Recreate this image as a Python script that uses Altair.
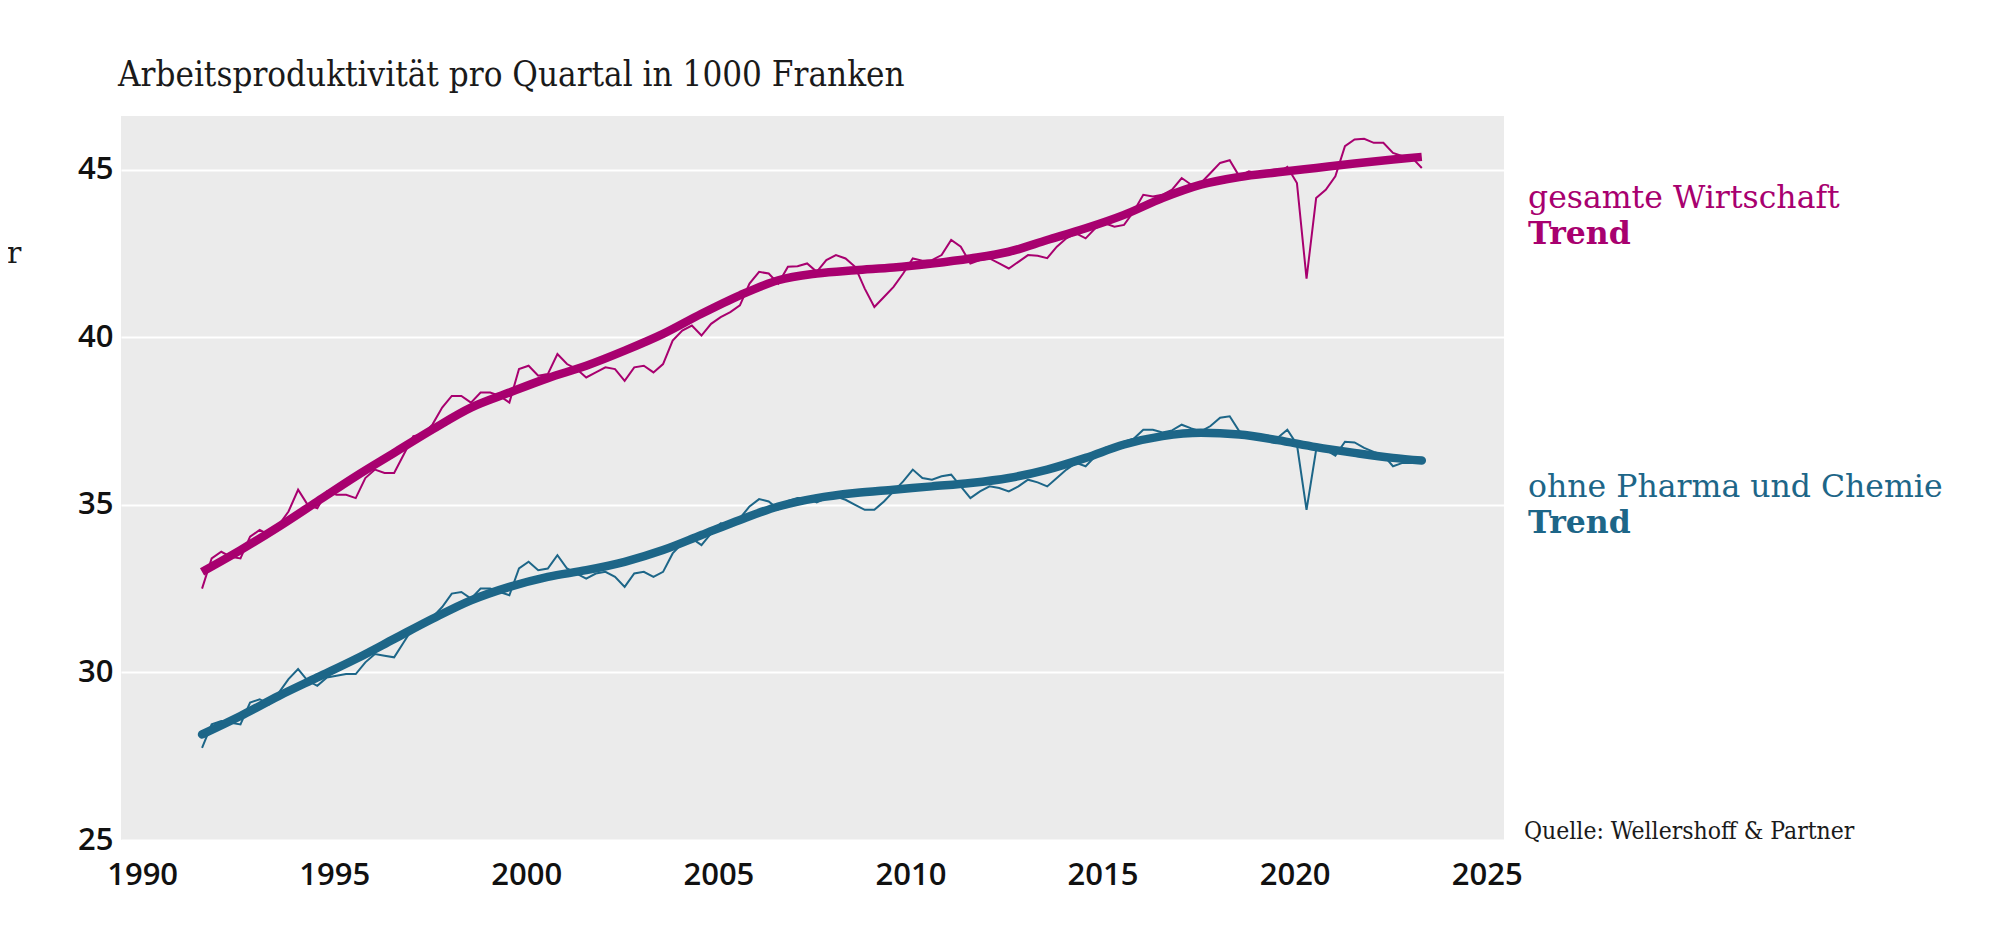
import altair as alt
import pandas as pd

# ---- data ----
start_year, start_quarter = 1991, 3   # first quarter shown: 1991 Q3

gesamt = [32.5, 33.4, 33.6, 33.45, 33.4, 34.05, 34.25, 34.1, 34.4, 34.8,
          35.45, 35.0, 34.9, 35.4, 35.3, 35.3, 35.2, 35.8, 36.05, 35.95,
          35.95, 36.5, 37.05, 37.1, 37.4, 37.9, 38.25, 38.25, 38.05, 38.35,
          38.35, 38.25, 38.05, 39.05, 39.15, 38.85, 38.9, 39.5, 39.2, 39.05,
          38.8, 38.95, 39.1, 39.05, 38.7, 39.1, 39.15, 38.95, 39.2, 39.9,
          40.2, 40.35, 40.05, 40.4, 40.6, 40.75, 40.95, 41.6, 41.95, 41.9,
          41.6, 42.1, 42.12, 42.2, 41.95, 42.3, 42.45, 42.35, 42.1, 41.45,
          40.9, 41.2, 41.5, 41.9, 42.35, 42.28, 42.3, 42.45, 42.9, 42.7,
          42.2, 42.3, 42.35, 42.2, 42.05, 42.25, 42.45, 42.43, 42.36, 42.7,
          42.95, 43.1, 42.95, 43.25, 43.4, 43.3, 43.35, 43.75, 44.25, 44.2,
          44.25, 44.4, 44.75, 44.55, 44.6, 44.9, 45.2, 45.28, 44.8, 44.95,
          44.87, 44.87, 44.9, 45.08, 44.6, 41.75, 44.15, 44.4, 44.8, 45.7,
          45.9, 45.92, 45.8, 45.8, 45.5, 45.4, 45.35, 45.05]

ohne = [27.75, 28.45, 28.55, 28.5, 28.45, 29.1, 29.2, 29.05, 29.4, 29.8,
        30.1, 29.75, 29.6, 29.85, 29.9, 29.95, 29.95, 30.3, 30.55, 30.5,
        30.45, 30.9, 31.35, 31.45, 31.65, 31.95, 32.35, 32.4, 32.2, 32.5,
        32.5, 32.4, 32.3, 33.1, 33.3, 33.05, 33.1, 33.5, 33.1, 32.95,
        32.8, 32.95, 33.0, 32.85, 32.55, 32.95, 33.0, 32.85, 33.0, 33.55,
        33.85, 34.0, 33.8, 34.15, 34.45, 34.4, 34.6, 34.95, 35.17, 35.1,
        34.87, 35.12, 35.2, 35.2, 35.07, 35.2, 35.25, 35.15, 35.0, 34.85,
        34.85, 35.1, 35.4, 35.7, 36.05, 35.8, 35.75, 35.85, 35.9, 35.55,
        35.2, 35.4, 35.55, 35.5, 35.4, 35.55, 35.75, 35.67, 35.55, 35.8,
        36.05, 36.25, 36.15, 36.45, 36.7, 36.78, 36.88, 36.97, 37.24, 37.24,
        37.16, 37.22, 37.39, 37.28, 37.19, 37.35, 37.6, 37.64, 37.19, 37.12,
        37.1, 37.06, 37.0, 37.24, 36.8, 34.85, 36.64, 36.64, 36.47, 36.88,
        36.86, 36.7, 36.58, 36.48, 36.15, 36.25, 36.25, 36.3]

# trend values, one per year (same quarter as the first point) plus the last quarter
trend_gesamt = [33.0, 33.65, 34.35, 35.1, 35.85, 36.55, 37.25, 37.9, 38.35, 38.78,
                39.15, 39.6, 40.1, 40.7, 41.25, 41.7, 41.9, 42.0, 42.08, 42.2,
                42.35, 42.55, 42.9, 43.25, 43.65, 44.15, 44.55, 44.78, 44.92, 45.05,
                45.18, 45.3, 45.38]
trend_ohne = [28.15, 28.7, 29.3, 29.85, 30.4, 31.0, 31.6, 32.15, 32.55, 32.85,
              33.05, 33.3, 33.65, 34.1, 34.55, 34.95, 35.2, 35.35, 35.45, 35.55,
              35.65, 35.8, 36.05, 36.4, 36.8, 37.05, 37.15, 37.1, 36.93, 36.72,
              36.55, 36.4, 36.32]

series_names = ["gesamte Wirtschaft", "ohne Pharma und Chemie"]
series_colors = ["#a8006f", "#1d6688"]
x_ticks = [1990, 1995, 2000, 2005, 2010, 2015, 2020, 2025]
y_ticks = [25, 30, 35, 40, 45]

# ---- tables ----
def qtime(i):
    q0 = start_quarter - 1 + i
    return start_year + q0 // 4 + (q0 % 4) / 4 + 0.06

rows = []
for name, vals in zip(series_names, [gesamt, ohne]):
    for i, v in enumerate(vals):
        rows.append({"t": qtime(i), "v": v, "s": name})
raw = pd.DataFrame(rows)

n = len(gesamt)
trend_idx = list(range(0, n, 4)) + [n - 1]
trows = []
for name, vals in zip(series_names, [trend_gesamt, trend_ohne]):
    for k, v in zip(trend_idx, vals):
        trows.append({"t": qtime(k), "v": v, "s": name})
trend = pd.DataFrame(trows)

xscale = alt.Scale(domain=[1989.45, 2025.45], nice=False, zero=False)
yscale = alt.Scale(domain=[25, 46.6], nice=False, zero=False)
cscale = alt.Scale(domain=series_names, range=series_colors)

X = alt.X("t:Q", scale=xscale,
          axis=alt.Axis(values=x_ticks, format="d", title=None, grid=False,
                        ticks=False, domain=False, labelFontSize=31,
                        labelFont="Open Sans", labelFontWeight=600,
                        labelColor="#111111", labelPadding=20))
Y = alt.Y("v:Q", scale=yscale,
          axis=alt.Axis(values=y_ticks, title=None, grid=True, gridColor="white",
                        gridWidth=2, ticks=False, domain=False, labelFontSize=31,
                        labelFont="Open Sans", labelFontWeight=600,
                        labelColor="#111111", labelPadding=8))
C = alt.Color("s:N", scale=cscale, legend=None)

raw_lines = alt.Chart(raw).mark_line(strokeWidth=2).encode(x=X, y=Y, color=C, detail="s:N")

trend_g = alt.Chart(trend).transform_filter(alt.datum.s == series_names[0]).mark_line(
    strokeWidth=8.5, interpolate="monotone", strokeCap="butt").encode(x=X, y=Y, color=C)
trend_o = alt.Chart(trend).transform_filter(alt.datum.s == series_names[1]).mark_line(
    strokeWidth=8.5, interpolate="monotone", strokeCap="round").encode(x=X, y=Y, color=C)

serif = "DejaVu Serif"
serif_c = "DejaVu Serif Condensed, DejaVu Serif"

labels = pd.DataFrame({
    "txt": ["gesamte Wirtschaft", "Trend", "ohne Pharma und Chemie", "Trend"],
    "col": [series_colors[0], series_colors[0], series_colors[1], series_colors[1]],
    "w": ["normal", "bold", "normal", "bold"],
    "px": [1407, 1407, 1407, 1407],
    "py": [92, 128, 381, 417],
})

def label(row):
    return alt.Chart(pd.DataFrame([row])).mark_text(
        align="left", baseline="alphabetic", font=serif, fontSize=31.5,
        fontWeight=row["w"], color=row["col"]
    ).encode(x=alt.value(row["px"]), y=alt.value(row["py"]), text="txt:N")

label_layers = [label(r) for r in labels.to_dict("records")]

source = alt.Chart(pd.DataFrame({"txt": ["Quelle: Wellershoff & Partner"]})).mark_text(
    align="left", baseline="alphabetic", font=serif_c, fontSize=24.5, color="#1a1a1a"
).encode(x=alt.value(1403), y=alt.value(723), text="txt:N")

stray = alt.Chart(pd.DataFrame({"txt": ["r"]})).mark_text(
    align="left", baseline="alphabetic", font=serif, fontSize=30, color="#1a1a1a"
).encode(x=alt.value(-114), y=alt.value(147), text="txt:N")

chart = alt.layer(raw_lines, trend_g, trend_o, *label_layers, source, stray).properties(
    width=1383, height=724,
    background="white",
    autosize=alt.AutoSizeParams(type="none"),
    padding={"left": 113, "top": 108, "right": 480, "bottom": 90},
    title=alt.TitleParams("Arbeitsproduktivität pro Quartal in 1000 Franken",
                          anchor="start", frame="group", font=serif_c, fontSize=34.7,
                          fontWeight="normal", color="#1a1a1a", offset=22, dx=-3),
).configure_view(fill="#ebebeb", strokeWidth=0)

chart.save("out.html", embed_options={"renderer": "svg", "actions": False})
